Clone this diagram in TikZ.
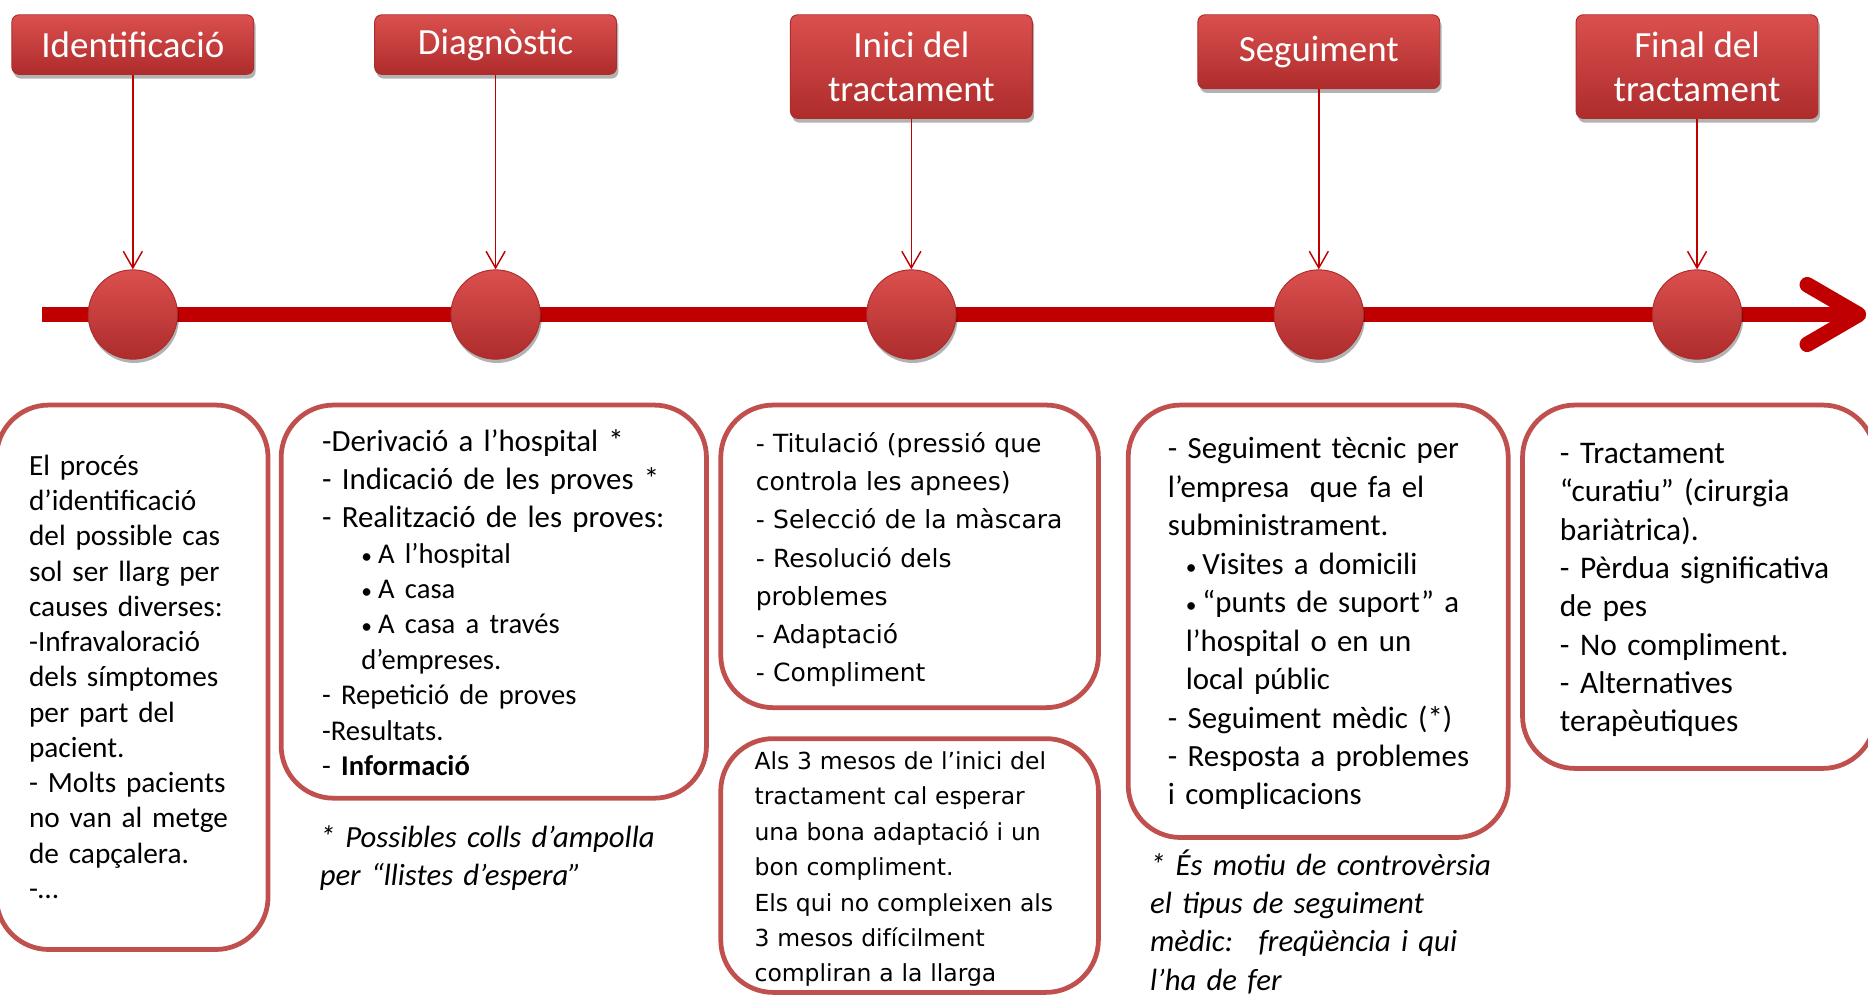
\documentclass[tikz,border=0pt]{standalone}
\usepackage{fontspec}
\setmainfont{Carlito}
\newfontfamily\widesans{DejaVu Sans}
\usetikzlibrary{shadows,arrows.meta}
\definecolor{barred}{RGB}{192,0,0}
\definecolor{panelred}{RGB}{192,80,77}
\definecolor{lightred}{RGB}{218,80,78}
\definecolor{deepred}{RGB}{174,44,44}
\newcommand{\dotmark}{{\fontsize{9}{9}\selectfont•}\hspace{2.5pt}}
\begin{document}
\begin{tikzpicture}[x=0.5pt,y=-0.5pt,
		phase/.style={rounded corners=3pt,top color=lightred,bottom color=deepred,draw=deepred,line width=0.4pt,text=white,minimum width=101.5pt,inner sep=0pt,align=center,font=\fontsize{15.5}{18.5}\selectfont,drop shadow={shadow xshift=0.8pt,shadow yshift=-1.8pt,opacity=0.3,fill=black}},
		dot/.style={circle,minimum size=37.5pt,inner sep=0pt,top color=lightred,bottom color=deepred,draw=deepred,line width=0.4pt,drop shadow={shadow xshift=0.6pt,shadow yshift=-1.6pt,opacity=0.3,fill=black}},
		link/.style={draw=barred,line width=0.6pt,-{Straight Barb[length=7pt,width=8pt]}},
		bar/.style={draw=barred,line width=6.5pt},
		panel/.style={draw=panelred,line width=2pt,rounded corners=22pt},
		note/.style={anchor=base west,inner sep=0pt,text width=200pt,align=left,font=\fontsize{12.95}{16.15}\selectfont}]
	\useasboundingbox (0,0) rectangle (1568,835);
	\coordinate (tl0) at (35,264);
	\coordinate (tl1) at (1560,264);
	\draw[bar] (tl0) -- (tl1);
	\draw[bar,line cap=round,line join=round] (tl1) ++(-43,-25) -- (tl1) -- ++(-43,25);
	\node[phase,minimum height=25pt,anchor=north] (t1) at (111.5,12) {Identificació};
	\node[phase,minimum height=25pt,anchor=north] (t2) at (416,12) {Diagnòstic};
	\node[phase,minimum height=43.5pt,anchor=north] (t3) at (765,12) {Inici del\\tractament};
	\node[phase,minimum height=31pt,anchor=north] (t4) at (1107,12) {Seguiment};
	\node[phase,minimum height=43.5pt,anchor=north] (t5) at (1424.5,12) {Final del\\tractament};
	\foreach \i/\x in {1/111.5,2/416,3/765,4/1107,5/1424.5}
	\node[dot] (c\i) at (\x,264) {};
	\foreach \i in {1,...,5}
	\draw[link] (t\i) -- (c\i);
	\draw[panel] (-3,340) rectangle (225,797);
	\draw[panel] (236,340) rectangle (593,670);
	\draw[panel] (605,340) rectangle (922,594);
	\draw[panel] (605,620) rectangle (922,833);
	\draw[panel] (947,340) rectangle (1266,703);
	\draw[panel] (1278,340) rectangle (1574,645);
	\node[note,font=\fontsize{12.3}{14.8}\selectfont] (idtxt) at (24,399) {El procés\\
		d’identificació\\
		del possible cas\\
		sol ser llarg per\\
		causes diverses:\\
		-Infravaloració\\
		dels símptomes\\
		per part del\\
		pacient.\\
		- Molts pacients\\
		no van al metge\\
		de capçalera.\\
		-…};
	\node[note,font=\fontsize{12.95}{14.85}\selectfont] (dgtxt) at (270,379) {-Derivació a l’hospital *\\[1.15pt]
		- Indicació de les proves *\\[1.15pt]
		- Realització de les proves:\\
		{\fontsize{12}{14.85}\selectfont\hspace*{16.5pt}\dotmark A l’hospital\\
		\hspace*{16.5pt}\dotmark A casa\\
		\hspace*{16.5pt}\dotmark A casa a través\\
		\hspace*{16.5pt}d’empreses.\\
		- Repetició de proves\\
		-Resultats.\\
		- \textbf{Informació}}};
	\node[note,font=\itshape\fontsize{12.9}{16}\selectfont] (dgnote) at (268,711) {* Possibles colls d’ampolla\\
		per “llistes d’espera”};
	\node[note,font=\widesans\fontsize{10.5}{16}\selectfont] (ittxt) at (634,380) {- Titulació (pressió que\\
		controla les apnees)\\
		- Selecció de la màscara\\
		- Resolució dels\\
		problemes\\
		- Adaptació\\
		- Compliment};
	\node[note,font=\widesans\fontsize{9.85}{14.85}\selectfont] (ittxt2) at (633,646) {Als 3 mesos de l’inici del\\
		tractament cal esperar\\
		una bona adaptació i un\\
		bon compliment.\\
		Els qui no compleixen als\\
		3 mesos difícilment\\
		compliran a la llarga};
	\node[note] (sgtxt) at (980,385) {- Seguiment tècnic per\\
		l’empresa~ que fa el\\
		subministrament.\\
		\hspace*{7.5pt}\dotmark Visites a domicili\\
		\hspace*{7.5pt}\dotmark “punts de suport” a\\
		\hspace*{7.5pt}l’hospital o en un\\
		\hspace*{7.5pt}local públic\\
		- Seguiment mèdic (*)\\
		- Resposta a problemes\\
		i complicacions};
	\node[note,font=\itshape\fontsize{12.9}{16}\selectfont] (sgnote) at (965,735) {* És motiu de controvèrsia\\
		el tipus de seguiment\\
		mèdic:~ freqüència i qui\\
		l’ha de fer};
	\node[note,font=\fontsize{13.2}{16.1}\selectfont] (fntxt) at (1309,389) {- Tractament\\
		“curatiu” (cirurgia\\
		bariàtrica).\\
		- Pèrdua significativa\\
		de pes\\
		- No compliment.\\
		- Alternatives\\
		terapèutiques};
\end{tikzpicture}
\end{document}
